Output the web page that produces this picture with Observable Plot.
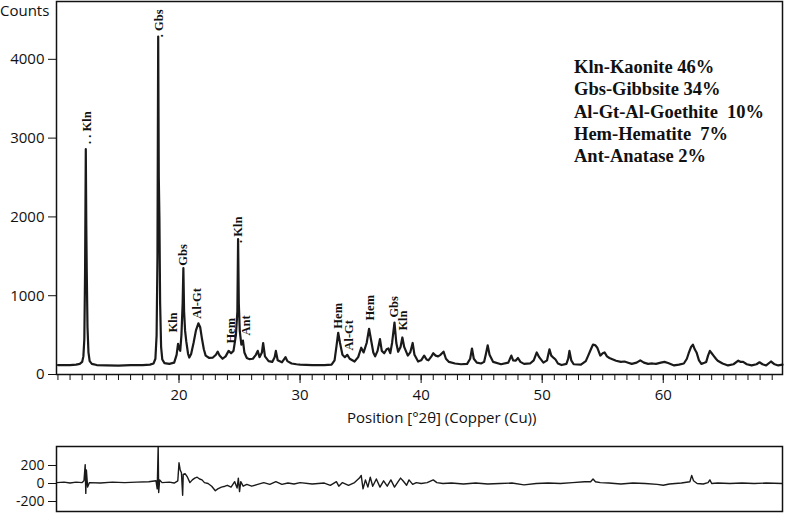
<!DOCTYPE html>
<html>
<head>
<meta charset="utf-8">
<script src="https://cdn.jsdelivr.net/npm/d3@7"></script>
<script src="https://cdn.jsdelivr.net/npm/@observablehq/plot@0.6"></script>
<style>
  html, body { margin: 0; padding: 0; background: #fff; }
  #wrap { position: relative; width: 785px; height: 514px; overflow: hidden; background: #fff; }
  #wrap svg { position: absolute; left: 0; }
  .ylab { position: absolute; left: 0; top: 0; font: 15px 'Open Sans', sans-serif; color: #111; }
  .xlab { position: absolute; left: 347px; top: 407px; font: 15px 'Open Sans', sans-serif; color: #111; white-space: nowrap; }
  .legend { position: absolute; left: 574px; top: 56px; font: bold 18.5px 'Liberation Serif', 'Times New Roman', serif; line-height: 22.3px; color: #111; white-space: pre; }
</style>
</head>
<body>
<div id="wrap"></div>
<script>
// ---- Data ----
const twoTheta = [10.0,10.5,11.0,11.5,11.8,12.0,12.1,12.18,12.24,12.3,12.34,12.38,12.44,12.52,12.62,12.8,13.2,14.0,15.0,16.0,17.0,17.6,17.9,18.05,18.15,18.22,18.28,18.33,18.38,18.44,18.52,18.62,18.8,19.2,19.6,19.8,19.92,20.0,20.1,20.2,20.3,20.36,20.42,20.5,20.6,20.75,20.85,21.0,21.2,21.4,21.6,21.75,21.9,22.05,22.2,22.5,22.8,23.05,23.2,23.35,23.6,23.85,24.1,24.3,24.5,24.7,24.82,24.88,24.94,25.02,25.15,25.28,25.4,25.6,25.8,26.1,26.35,26.5,26.65,26.85,26.95,27.1,27.4,27.7,27.9,28.0,28.15,28.5,28.8,28.95,29.3,29.7,30.0,31.0,32.0,32.6,32.85,33.0,33.15,33.3,33.5,33.7,33.9,34.1,34.5,34.8,35.05,35.25,35.5,35.7,35.85,36.05,36.2,36.4,36.6,36.75,36.95,37.15,37.3,37.45,37.6,37.8,37.95,38.1,38.3,38.45,38.6,38.9,39.1,39.3,39.45,39.75,40.0,40.25,40.45,40.6,40.85,41.0,41.2,41.4,41.6,41.85,42.05,42.3,42.8,43.3,43.8,44.05,44.2,44.35,44.6,44.95,45.2,45.35,45.5,45.65,45.95,46.6,47.2,47.45,47.6,47.8,48.0,48.2,48.5,49.0,49.3,49.55,49.75,50.1,50.4,50.6,50.75,50.95,51.1,51.3,51.6,52.0,52.15,52.25,52.4,52.6,53.2,53.6,53.8,54.05,54.2,54.4,54.55,54.8,55.0,55.15,55.35,55.55,56.1,56.5,56.8,57.1,57.4,57.8,58.1,58.4,58.75,59.1,59.4,59.8,60.1,60.4,60.9,61.3,61.7,61.95,62.1,62.3,62.45,62.6,62.75,62.95,63.15,63.4,63.55,63.7,63.85,64.0,64.15,64.35,64.5,64.9,65.35,65.8,66.2,66.4,66.6,66.9,67.3,67.7,67.95,68.2,68.5,68.9,69.2,69.5,69.85];
const counts = [120,118,120,125,135,160,230,450,1300,2860,1900,1300,600,280,170,135,120,115,112,118,120,125,140,200,500,1500,4290,2500,2000,900,350,190,145,135,150,250,390,330,300,500,900,1350,800,560,420,260,215,260,400,560,650,600,450,320,240,210,215,250,290,240,200,230,300,270,300,500,800,1720,900,550,380,430,280,210,195,200,250,300,220,280,400,230,170,160,220,300,180,155,220,170,140,130,125,118,118,125,180,350,530,400,250,220,250,200,165,220,340,280,400,580,450,280,230,300,450,300,270,320,330,270,400,660,400,290,350,470,350,240,280,400,250,165,180,240,190,180,230,270,240,230,250,290,200,160,140,130,135,200,330,200,150,140,160,260,370,250,160,130,150,240,180,175,210,160,135,140,180,280,220,150,180,320,240,210,190,140,120,135,200,300,180,130,125,170,240,330,380,370,340,240,270,280,230,210,175,160,165,150,135,150,180,150,135,140,135,150,160,145,115,125,140,200,270,350,380,320,280,180,135,150,160,240,300,270,240,200,175,140,115,130,175,160,160,130,115,130,155,130,115,165,130,115,125];

const residTheta = [9.9,10.5,11.0,11.5,12.0,12.15,12.25,12.3,12.35,12.45,12.6,13.5,14.5,15.5,16.5,17.5,18.1,18.2,18.28,18.32,18.4,18.6,19.2,19.6,19.9,20.0,20.1,20.2,20.3,20.35,20.5,20.7,20.9,21.1,21.3,21.5,21.7,21.9,22.1,22.4,22.7,23.0,23.2,23.5,23.8,24.0,24.3,24.6,24.8,24.9,25.0,25.1,25.3,25.6,26.0,26.5,27.0,27.5,28.0,28.5,29.0,29.5,30.0,31.0,32.0,32.5,33.0,33.2,33.5,34.0,34.5,34.9,35.05,35.2,35.4,35.6,35.8,36.0,36.3,36.6,36.9,37.2,37.5,37.8,38.1,38.3,38.5,38.8,39.0,39.3,39.6,40.0,40.5,41.0,41.3,41.8,42.5,43.5,44.5,45.5,46.5,47.5,48.5,49.5,50.5,51.5,52.5,53.5,54.0,54.2,54.4,54.8,55.5,56.5,57.5,58.5,59.5,60.0,60.5,61.5,62.2,62.35,62.5,62.8,63.3,63.7,63.85,64.0,64.5,65.5,66.5,67.5,68.5,69.85];
const residCounts = [10,15,5,15,10,30,210,-110,150,-40,10,5,15,10,15,20,30,-60,420,-100,40,10,15,5,30,230,150,120,-130,100,110,70,10,40,60,70,50,40,10,0,-30,-80,-60,-40,-30,-20,-40,20,-50,60,-90,20,-30,-10,-30,-10,10,-10,20,-10,5,-5,10,-5,5,-20,20,-30,10,-20,10,60,90,-60,40,-40,70,-30,50,-40,30,-30,40,-40,20,60,30,-20,40,-10,10,0,10,40,10,0,5,-5,5,-5,0,5,-15,0,5,0,10,20,20,50,20,10,5,-5,5,0,-10,-20,-5,5,20,90,30,0,-5,10,40,0,5,0,5,0,5,0];

const peakTheta = [12.4, 18.35, 19.5, 20.33, 21.49, 24.3, 24.88, 25.54, 33.14, 34.05, 35.79, 37.77, 38.51];
const peakBase  = [2925, 4280, 532, 1380, 709, 392, 1670, 494, 582, 304, 684, 722, 557];
const peakName  = [". . Kln", ". Gbs", "Kln", "Gbs", "Al-Gt", "Hem", ". Kln", "Ant", "Hem", "Al-Gt", "Hem", "Gbs", "Kln"];

const countTicks = [0, 1000, 2000, 3000, 4000];
const positionTicks = [20, 30, 40, 50, 60];
const residTicks = [-200, 0, 200];
const legendLines = ["Kln-Kaonite 46%", "Gbs-Gibbsite 34%", "Al-Gt-Al-Goethite  10%", "Hem-Hematite  7%", "Ant-Anatase 2%"];

// ---- Build tables ----
const pattern = twoTheta.map((t, i) => ({t, c: counts[i]}));
const resid = residTheta.map((t, i) => ({t, c: residCounts[i]}));
const peaks = peakTheta.map((t, i) => ({t, c: peakBase[i], name: peakName[i]}));
const minorTicks = d3.range(10, 70, 1);
const xDomain = [9.88, 69.85];
const font = "'Open Sans', sans-serif";
const plain = d => String(d);

const main = Plot.plot({
  width: 785, height: 440,
  marginLeft: 56, marginRight: 3, marginTop: 1, marginBottom: 66,
  style: {fontFamily: font, fontSize: "15px", color: "#111", background: "transparent"},
  x: {domain: xDomain},
  y: {domain: [0, 4734]},
  marks: [
    Plot.axisY({ticks: countTicks, tickSize: 8, tickPadding: 4, tickFormat: plain, label: null, fontSize: 15}),
    Plot.axisX({ticks: minorTicks, tickSize: 6, tickFormat: () => "", label: null}),
    Plot.axisX({ticks: positionTicks, tickSize: 9, tickPadding: 6, tickFormat: plain, label: null, fontSize: 15}),
    Plot.line(pattern, {x: "t", y: "c", stroke: "#1a1a1a", strokeWidth: 2.2}),
    Plot.text(peaks, {x: "t", y: "c", text: "name", rotate: -90, textAnchor: "start",
      fontFamily: "'Liberation Serif', 'Times New Roman', serif", fontWeight: "bold", fontSize: 12.5, fill: "#111"}),
    Plot.frame({stroke: "#111", strokeWidth: 1.5})
  ]
});
main.style.top = "0px";

const bottom = Plot.plot({
  width: 785, height: 74,
  marginLeft: 56, marginRight: 3, marginTop: 6, marginBottom: 3,
  style: {fontFamily: font, fontSize: "14px", color: "#111", background: "transparent"},
  x: {domain: xDomain, axis: null},
  y: {domain: [-311, 411]},
  marks: [
    Plot.axisY({ticks: residTicks, tickSize: 8, tickPadding: 4, tickFormat: plain, label: null, fontSize: 14}),
    Plot.line(resid, {x: "t", y: "c", stroke: "#1a1a1a", strokeWidth: 1.4, clip: true}),
    Plot.frame({stroke: "#111", strokeWidth: 1.5})
  ]
});
bottom.style.top = "440px";

const wrap = document.getElementById("wrap");
wrap.appendChild(main);
wrap.appendChild(bottom);

const yl = document.createElement("div"); yl.className = "ylab"; yl.textContent = "Counts"; wrap.appendChild(yl);
const xl = document.createElement("div"); xl.className = "xlab"; xl.textContent = "Position [°2θ] (Copper (Cu))"; wrap.appendChild(xl);
const lg = document.createElement("div"); lg.className = "legend"; lg.textContent = legendLines.join("\n"); wrap.appendChild(lg);
</script>
</body>
</html>
